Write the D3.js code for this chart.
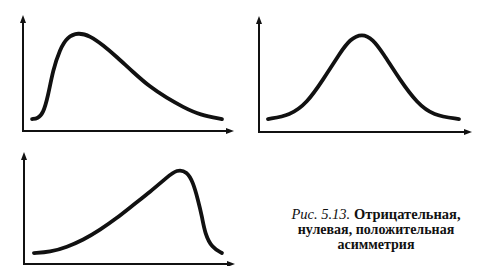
<!DOCTYPE html>
<html><head><meta charset="utf-8">
<script src="https://cdn.jsdelivr.net/npm/d3@7"></script>
<style>
html,body{margin:0;padding:0;background:#fff;}
svg{display:block;}
</style></head>
<body>
<svg id="c" width="485" height="266"></svg>
<script>
// Data: curve points in panel units (x: 0-100 along axis, y: 0-100 along axis)
const negX = [4.3, 7.0, 9.5, 11.8, 14.2, 17.5, 20.9, 26.1, 31.8, 37.9, 44.5, 52.1, 60.2, 68.2, 75.8, 83.9, 94.3];
const negY = [10.3, 10.8, 15.0, 29.3, 52.6, 70.5, 81.0, 85.0, 82.0, 74.1, 63.8, 50.9, 37.9, 28.4, 20.7, 13.8, 10.3];
const zeroX = [4.2, 14.6, 22.5, 30.0, 38.0, 42.7, 48.4, 53.5, 58.2, 66.2, 74.2, 81.7, 93.9];
const zeroY = [11.2, 14.3, 25.0, 44.8, 68.1, 80.0, 85.0, 80.0, 68.1, 44.8, 25.0, 14.3, 11.2];
const posX = [4.7, 12.3, 20.4, 28.0, 36.0, 44.1, 51.7, 59.7, 67.8, 72.5, 77.3, 80.1, 82.5, 84.4, 85.8, 89.1, 93.8];
const posY = [9.8, 10.5, 15.2, 21.4, 30.4, 41.1, 52.7, 64.3, 77.5, 84.5, 82.5, 73.0, 57.1, 42.0, 27.0, 14.5, 9.8];
const captionItalic = "Рис. 5.13.";
const captionLines = ["Отрицательная,", "нулевая, положительная", "асимметрия"];

const svg = d3.select("#c");

const panels = [
  {xs: negX, ys: negY, x0: 23, x1: 234, y0: 131, y1: 15},
  {xs: zeroX, ys: zeroY, x0: 259, x1: 472, y0: 132, y1: 16},
  {xs: posX, ys: posY, x0: 24, x1: 235, y0: 264, y1: 152}
];

panels.forEach(p => {
  const x = d3.scaleLinear().domain([0, 100]).range([p.x0, p.x1]);
  const y = d3.scaleLinear().domain([0, 100]).range([p.y0, p.y1]);
  const g = svg.append("g");
  // axes
  g.append("line").attr("x1", x(0)).attr("y1", y(0)).attr("x2", x(100) - 5).attr("y2", y(0))
    .attr("stroke", "#111").attr("stroke-width", 2);
  g.append("line").attr("x1", x(0)).attr("y1", y(0) + 1).attr("x2", x(0)).attr("y2", y(100) + 5)
    .attr("stroke", "#111").attr("stroke-width", 2);
  // arrowheads
  g.append("path").attr("d", `M${x(100)},${y(0)} L${x(100)-8},${y(0)-3} L${x(100)-8},${y(0)+3} Z`).attr("fill", "#111");
  g.append("path").attr("d", `M${x(0)},${y(100)} L${x(0)-3},${y(100)+8} L${x(0)+3},${y(100)+8} Z`).attr("fill", "#111");
  // curve
  const pts = p.xs.map((v, i) => [v, p.ys[i]]);
  g.append("path").datum(pts)
    .attr("d", d3.line().x(d => x(d[0])).y(d => y(d[1])).curve(d3.curveBasis))
    .attr("fill", "none").attr("stroke", "#111").attr("stroke-width", 3.8)
    .attr("stroke-linecap", "round");
});

// caption
const cx = 376;
const font = "Liberation Serif, Times New Roman, serif";
const t1 = svg.append("text").attr("x", cx).attr("y", 219).attr("text-anchor", "middle")
  .attr("font-family", font).attr("font-size", 14.5).attr("fill", "#111");
t1.append("tspan").attr("font-style", "italic").text(captionItalic + " ");
t1.append("tspan").attr("font-weight", "bold").text(captionLines[0]);
captionLines.slice(1).forEach((l, i) => {
  svg.append("text").attr("x", cx).attr("y", 234 + i * 14.5).attr("text-anchor", "middle")
    .attr("font-family", font).attr("font-size", 14)
    .attr("font-weight", "bold").attr("fill", "#111").text(l);
});
</script>
</body></html>
